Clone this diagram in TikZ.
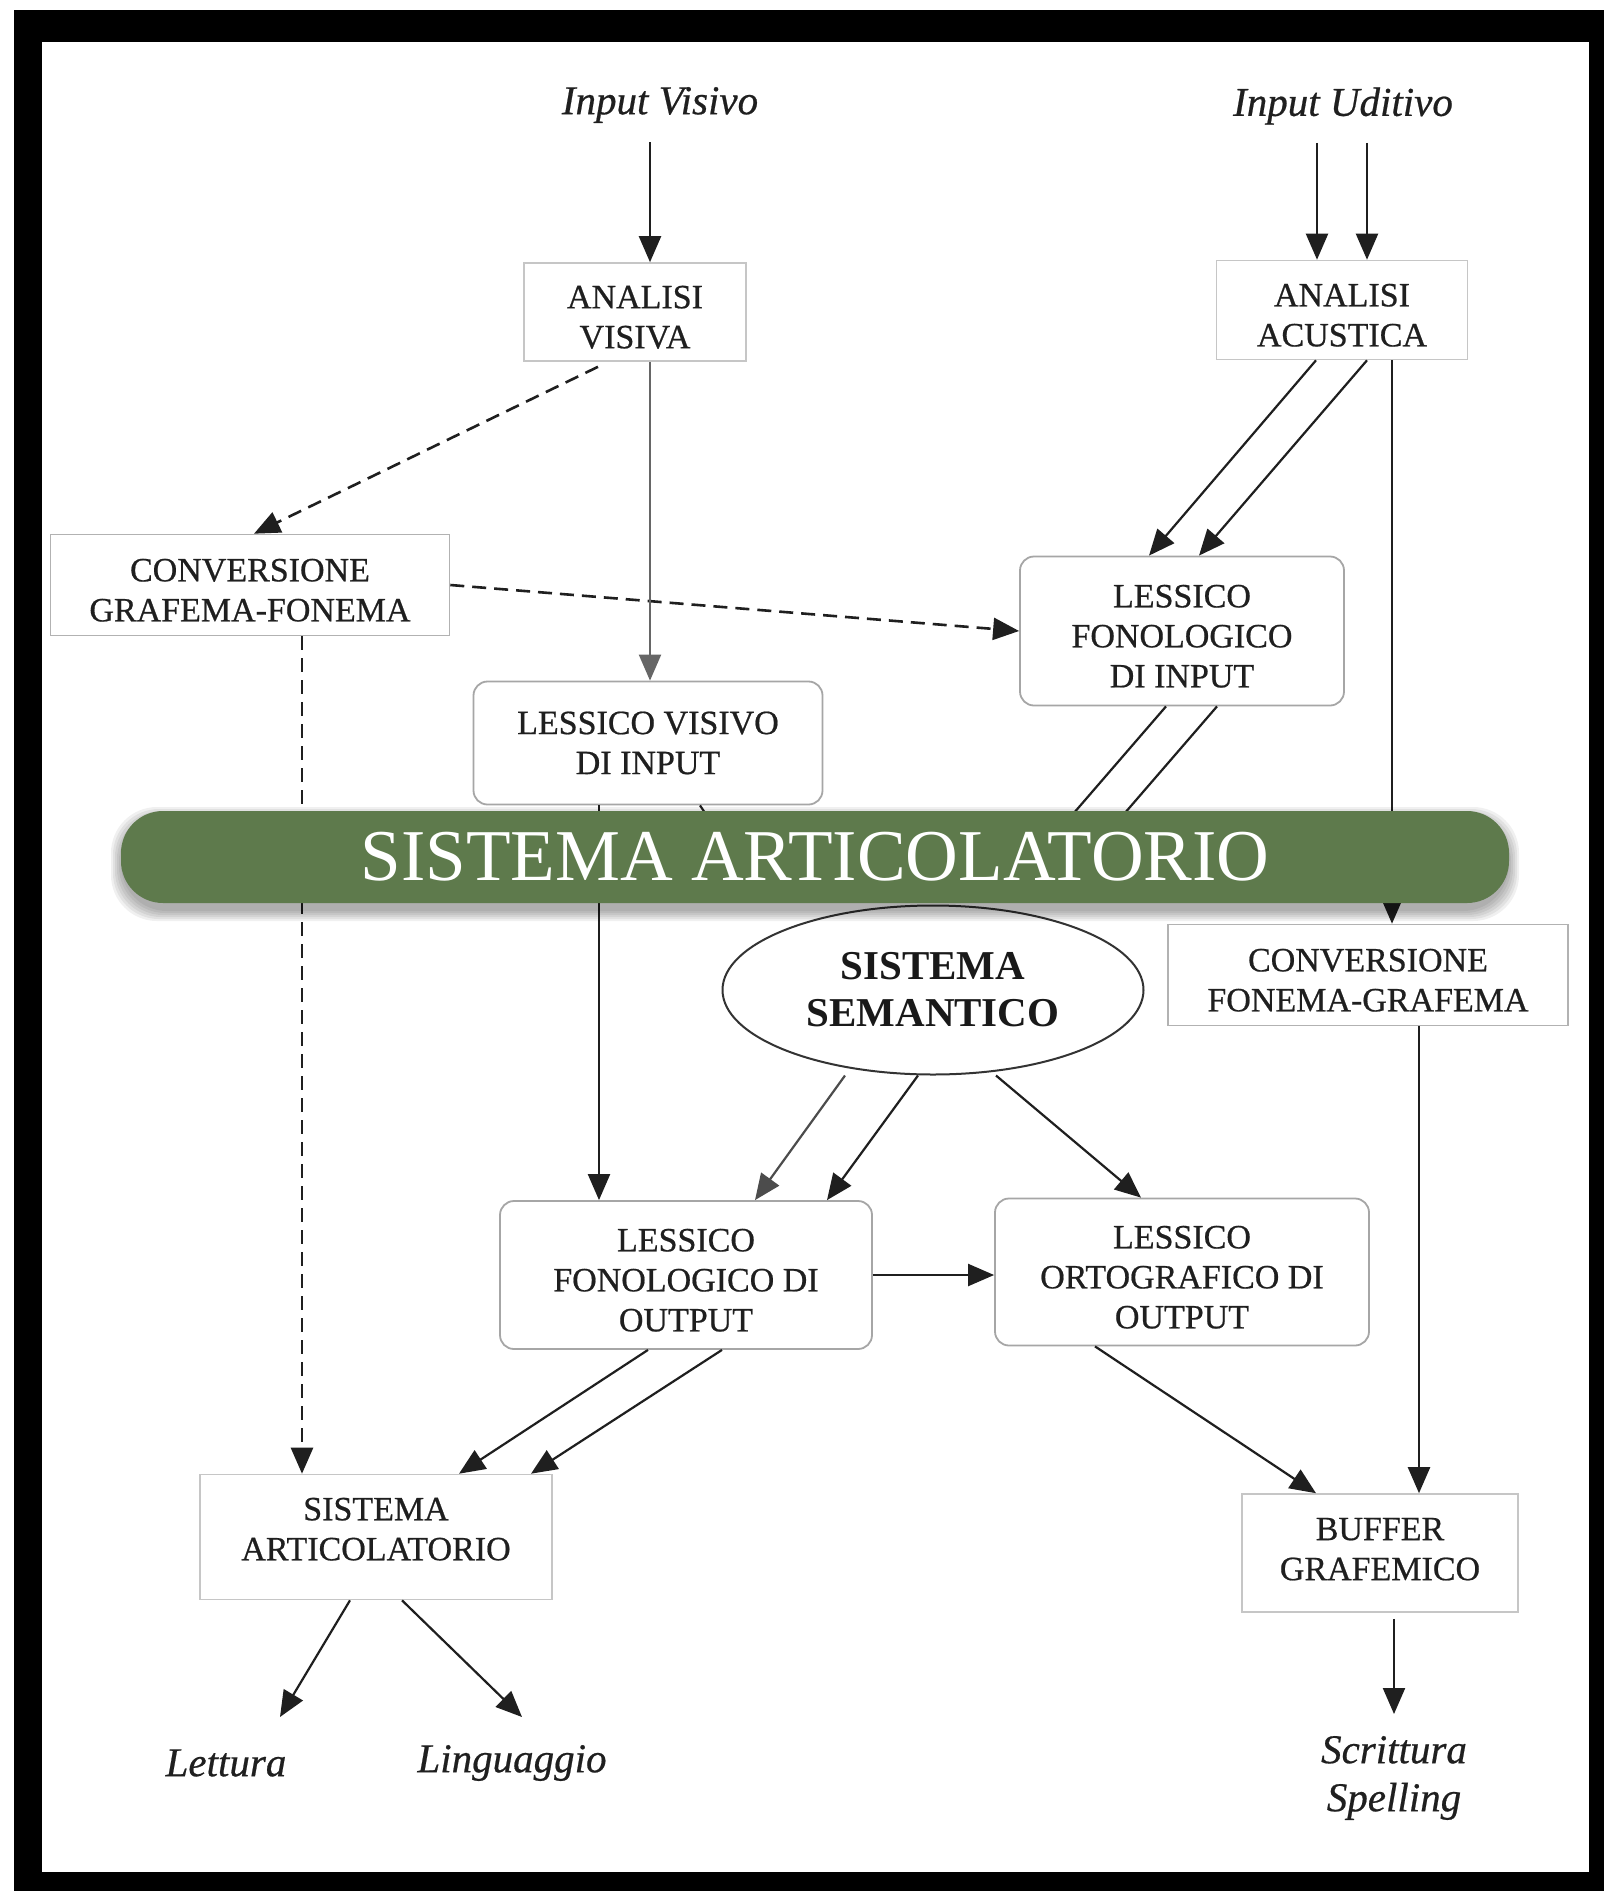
\documentclass[tikz,border=0pt]{standalone}
\usepackage{fontspec}
\setmainfont{Liberation Serif}
\usetikzlibrary{arrows.meta,shapes.geometric,calc}
\definecolor{bannergreen}{RGB}{94,122,76}
\newcommand{\dnpad}{\rule{0pt}{33pt}}
\begin{document}
\begin{tikzpicture}[x=1pt,y=-1pt,
  boxtext/.style={font=\fontsize{34}{40}\selectfont\addfontfeature{FakeBold=0.6}, text=black!88, align=center},
  sqbox/.style={boxtext, draw=gray!45, line width=1.6pt, inner sep=0pt},
  rbox/.style={boxtext, draw=gray!70, line width=1.8pt, rounded corners=14pt, inner sep=0pt},
  lab/.style={font=\fontsize{41}{48}\selectfont\itshape\addfontfeature{FakeBold=0.5}, text=black!88, inner sep=0pt, align=center},
  arr/.style={line width=2.2pt, draw=black!88, -{Triangle[length=26pt,width=22pt]}},
  darr/.style={arr, line width=2.6pt, dash pattern=on 14pt off 8pt},
]
\useasboundingbox (0,0) rectangle (1607,1893);
% frame
\fill[black] (14,10) rectangle (1604,1891);
\fill[white] (42,42) rectangle (1589,1872);

% labels
\node[lab] (iv) at (660,105) {Input Visivo};
\node[lab] (iu) at (1343,106) {Input Uditivo};
\node[lab] (let) at (226,1763) {Lettura};
\node[lab] (lin) at (512,1763) {Linguaggio};
\node[lab] (scr) at (1394,1778) {Scrittura\\Spelling};

% boxes
\node[sqbox, minimum width=222pt, minimum height=98pt] (av) at (635,312) {\dnpad ANALISI\\VISIVA};
\node[sqbox, minimum width=251pt, minimum height=99pt] (aa) at (1342,310) {\dnpad ANALISI\\ACUSTICA};
\node[sqbox, draw=gray!60, minimum width=399pt, minimum height=101pt] (cgf) at (250,585) {\dnpad CONVERSIONE\\GRAFEMA-FONEMA};
\node[rbox, minimum width=324pt, minimum height=149pt] (lfi) at (1182,631) {\dnpad LESSICO\\FONOLOGICO\\DI INPUT};
\node[rbox, minimum width=349pt, minimum height=123pt] (lvi) at (648,743) {LESSICO VISIVO\\DI INPUT};
\node[ellipse, draw=black!80, line width=2pt, minimum width=421pt, minimum height=169pt, inner sep=0pt,
      font=\fontsize{41}{47}\selectfont\bfseries, text=black!90, align=center] (ss) at (933,990) {SISTEMA\\SEMANTICO};
\node[sqbox, draw=gray!60, minimum width=400pt, minimum height=101pt] (cfg) at (1368,975) {\dnpad CONVERSIONE\\FONEMA-GRAFEMA};
\node[rbox, minimum width=372pt, minimum height=148pt] (lfo) at (686,1275) {\dnpad LESSICO\\FONOLOGICO DI\\OUTPUT};
\node[rbox, minimum width=374pt, minimum height=147pt] (loo) at (1182,1272) {\dnpad LESSICO\\ORTOGRAFICO DI\\OUTPUT};
\node[sqbox, minimum width=352pt, minimum height=125pt] (sa) at (376,1537) {SISTEMA\\ARTICOLATORIO\\[-24pt]};
\node[sqbox, minimum width=276pt, minimum height=118pt] (bg) at (1380,1553) {BUFFER\\GRAFEMICO\\[-32pt]};

% free ends
\coordinate (ssa) at (1003,895);
\coordinate (ssb) at (1054,895);
\coordinate (ssc) at (760,895);
\coordinate (scrin) at (1394,1714);
\coordinate (letin) at (280,1717);
\coordinate (linin) at (522,1717);

% connectors
\draw[arr] ([xshift=-10pt,yshift=-19pt]iv.south) -- ([xshift=15pt]av.north);
\draw[arr] ([xshift=-26pt,yshift=-18pt]iu.south) -- ([xshift=-25pt]aa.north);
\draw[arr] ([xshift=24pt,yshift=-18pt]iu.south) -- ([xshift=25pt]aa.north);
\draw[darr] ([xshift=-37pt,yshift=-5pt]av.south) -- ([xshift=4pt]cgf.north);
\draw[darr] (cgf.east) -- (lfi.west);
\draw[arr, draw=black!60] ([xshift=15pt]av.south) -- ([xshift=15pt]av.south |- lvi.north);
\draw[arr] ([xshift=-26pt]aa.south) -- ([xshift=-33pt]lfi.north);
\draw[arr] ([xshift=25pt]aa.south) -- ([xshift=17pt]lfi.north);
\draw[arr] ([xshift=50pt]aa.south) -- ([xshift=50pt]aa.south |- cfg.north);
\draw[arr] ([xshift=-16pt]lfi.south) -- (ssa);
\draw[arr] ([xshift=35pt]lfi.south) -- (ssb);
\draw[arr] ([xshift=52pt]lvi.south) -- (ssc);
\draw[arr] ([xshift=-49pt]lvi.south) -- ([xshift=-49pt]lvi.south |- lfo.north);
\draw[arr, draw=black!70] ([xshift=-88pt]ss.south) -- ([xshift=69pt]lfo.north);
\draw[arr] ([xshift=-15pt]ss.south) -- ([xshift=141pt]lfo.north);
\draw[arr] ([xshift=63pt]ss.south) -- ([xshift=-41pt]loo.north);
\draw[arr] (lfo.east) -- (lfo.east -| loo.west);
\draw[arr] ([xshift=-38pt]lfo.south) -- ([xshift=83pt]sa.north);
\draw[arr] ([xshift=36pt]lfo.south) -- ([xshift=155pt]sa.north);
\draw[darr] ([xshift=52pt]cgf.south) -- ([xshift=52pt]cgf.south |- sa.north);
\draw[arr] ([xshift=51pt]cfg.south) -- ([xshift=51pt]cfg.south |- bg.north);
\draw[arr] ([xshift=-87pt]loo.south) -- ([xshift=-64pt]bg.north);
\draw[arr] ([xshift=14pt,yshift=-6pt]bg.south) -- (scrin);
\draw[arr] ([xshift=-26pt]sa.south) -- (letin);
\draw[arr] ([xshift=26pt]sa.south) -- (linin);

% banner shadow
\foreach \d in {0,2,4,6,8,10}
  \fill[black, opacity=0.06, rounded corners=46pt] (121-\d,817-\d) rectangle (1509+\d,911+\d);
% banner
\node[fill=bannergreen, rounded corners=42pt, minimum width=1388pt, minimum height=92pt, inner sep=0pt,
      text=white, font=\fontsize{73}{80}\selectfont] (ban) at (815,857) {SISTEMA ARTICOLATORIO};
\end{tikzpicture}
\end{document}
